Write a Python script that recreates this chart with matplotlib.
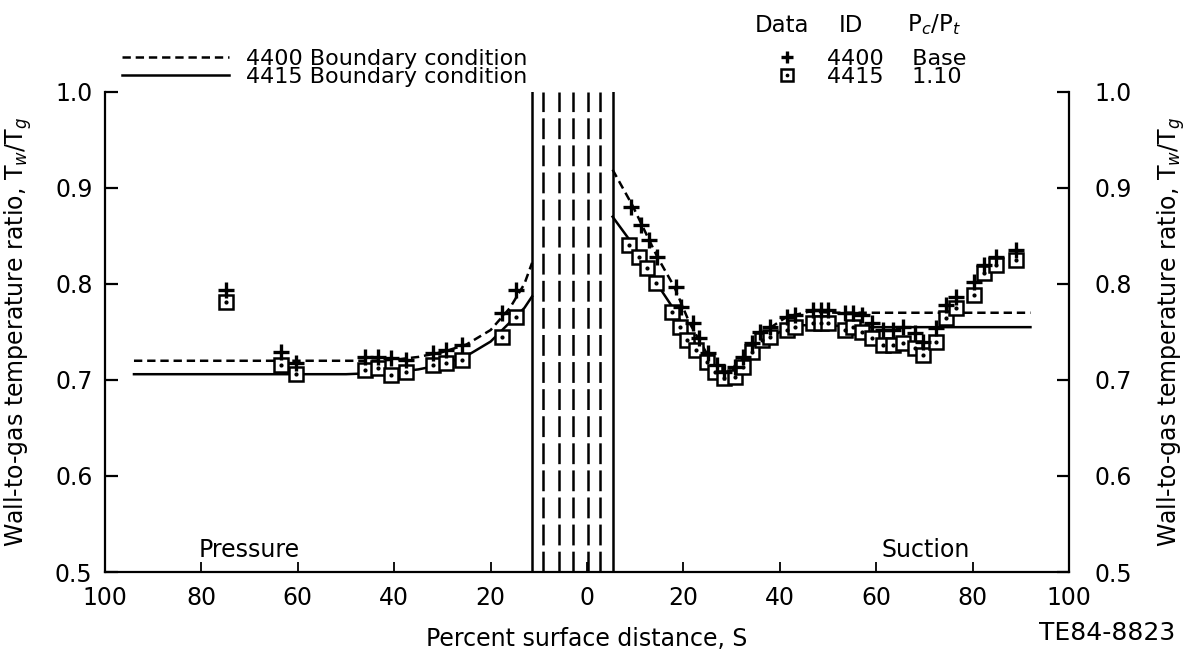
import numpy as np
import matplotlib.pyplot as plt
from matplotlib.ticker import FuncFormatter, MultipleLocator

plt.rcParams['font.family'] = ['DejaVu Sans']
plt.rcParams['lines.scale_dashes'] = False

# surface distance S in percent; pressure side negative (drawn on the left)
# boundary-condition curves
bc4400_s = [-94, -60, -45, -40, -35, -30, -25, -20, -16, -13, -11.4]
bc4400_t = [0.720, 0.720, 0.720, 0.721, 0.724, 0.729, 0.737, 0.752, 0.775, 0.800, 0.822]
bc4415_s = [-94, -50, -45, -40, -35, -30, -25, -20, -16, -13, -11.4]
bc4415_t = [0.706, 0.706, 0.707, 0.708, 0.711, 0.716, 0.725, 0.740, 0.760, 0.775, 0.787]

bc4400_ss = [5.3, 9.4, 14.6, 18.1, 21.3, 24.8, 28.5, 33.0, 37.3, 41.5, 46, 52, 92]
bc4400_st = [0.919, 0.882, 0.828, 0.797, 0.759, 0.728, 0.703, 0.728, 0.752, 0.766, 0.771, 0.770, 0.770]
bc4415_ss = [5.3, 8.8, 14.4, 17.7, 21.3, 24.8, 28.5, 34.4, 40, 44, 50, 56, 92]
bc4415_st = [0.870, 0.846, 0.801, 0.776, 0.745, 0.724, 0.700, 0.734, 0.750, 0.757, 0.757, 0.755, 0.755]

# measured data, ID 4400 (+)
d4400_s = [-75, -63.5, -60.4, -46, -43.3, -40.6, -37.5, -31.9, -29.2, -26, -17.7, -14.8,
           9.2, 11.2, 12.9, 14.6, 18.5, 19.6, 21.9, 23.3, 25, 26.9, 28.5, 30.6, 32.3, 34.2,
           35.8, 37.9, 41.5, 43.1, 46.9, 48.6, 50, 53.5, 55.2, 57, 59.2, 61.5, 63.5, 65.6,
           68.1, 69.8, 72.3, 74.4, 76.5, 80.2, 82.3, 84.8, 89]
d4400_t = [0.794, 0.729, 0.718, 0.724, 0.724, 0.723, 0.721, 0.728, 0.731, 0.736, 0.770, 0.794,
           0.880, 0.861, 0.846, 0.828, 0.797, 0.776, 0.759, 0.744, 0.728, 0.716, 0.708, 0.714,
           0.724, 0.738, 0.750, 0.755, 0.766, 0.768, 0.773, 0.773, 0.773, 0.770, 0.770, 0.768,
           0.759, 0.752, 0.752, 0.755, 0.749, 0.740, 0.754, 0.778, 0.786, 0.802, 0.820, 0.828,
           0.835]

# measured data, ID 4415 (square)
d4415_s = [-75, -63.5, -60.4, -46, -43.3, -40.6, -37.5, -31.9, -29.2, -26, -17.7, -14.8,
           8.75, 10.8, 12.5, 14.4, 17.7, 19.2, 20.8, 22.7, 24.8, 26.5, 28.5, 30.6, 32.3, 34.2,
           36.2, 37.9, 41.5, 43.1, 46.9, 48.6, 50, 53.5, 55.2, 57, 59.2, 61.5, 63.5, 65.6,
           68.1, 69.8, 72.3, 74.4, 76.5, 80.2, 82.3, 84.8, 89]
d4415_t = [0.781, 0.716, 0.706, 0.710, 0.712, 0.705, 0.708, 0.716, 0.718, 0.721, 0.745, 0.766,
           0.841, 0.828, 0.817, 0.801, 0.771, 0.755, 0.742, 0.731, 0.719, 0.708, 0.702, 0.703,
           0.714, 0.729, 0.742, 0.745, 0.752, 0.755, 0.759, 0.759, 0.759, 0.752, 0.755, 0.750,
           0.744, 0.736, 0.736, 0.738, 0.733, 0.726, 0.740, 0.765, 0.775, 0.789, 0.811, 0.820,
           0.825]

# leading-edge region lines
edge_solid = [-11.4, 5.3]
edge_dashed = [-9.1, -5.8, -2.9, 0.1, 2.6]

fig = plt.figure(figsize=(11.87, 6.61), dpi=100)
ax = fig.add_axes([0.0885, 0.1346, 0.8121, 0.7264])

lw = 1.8
for x in edge_solid:
    ax.axvline(x, color='black', lw=lw)
for x in edge_dashed:
    ax.axvline(x, color='black', lw=lw, dashes=(15, 4.5))

ln1, = ax.plot(bc4400_s, bc4400_t, color='black', lw=lw, dashes=(6, 3.5))
ax.plot(bc4400_ss, bc4400_st, color='black', lw=lw, dashes=(6, 3.5))
ln2, = ax.plot(bc4415_s, bc4415_t, color='black', lw=lw)
ax.plot(bc4415_ss, bc4415_st, color='black', lw=lw)

sq, = ax.plot(d4415_s, d4415_t, ls='none', marker='s', ms=9.5, mfc='white', mec='black', mew=1.8)
dot, = ax.plot(d4415_s, d4415_t, ls='none', marker='o', ms=2, color='black')
pl, = ax.plot(d4400_s, d4400_t, ls='none', marker='+', ms=11, mew=2.4, color='black')

ax.text(-80.6, 0.523, 'Pressure', fontsize=17, ha='left', va='center')
ax.text(79.5, 0.523, 'Suction', fontsize=17, ha='right', va='center')

ax.set_xlim(-100, 100)
ax.set_ylim(0.5, 1.0)
ax.xaxis.set_major_locator(MultipleLocator(20))
ax.xaxis.set_major_formatter(FuncFormatter(lambda v, p: f'{abs(v):.0f}'))
ax.yaxis.set_major_locator(MultipleLocator(0.1))
ax.yaxis.set_major_formatter(FuncFormatter(lambda v, p: f'{v:.1f}'))
ax.spines['top'].set_visible(False)
ax.spines['right'].set_visible(False)
for s in ['left', 'bottom']:
    ax.spines[s].set_linewidth(1.6)
ax.tick_params(axis='y', direction='in', length=9, width=1.6, labelsize=17, pad=9)
ax.tick_params(axis='x', direction='in', length=7, width=1.3, labelsize=17, pad=10)
ax.set_xlabel('Percent surface distance, S', fontsize=17, labelpad=12)
ax.set_ylabel('Wall-to-gas temperature ratio, T$_w$/T$_g$', fontsize=17)
ax.yaxis.set_label_coords(-0.074, 0.5)

ax2 = ax.twinx()
ax2.set_ylim(0.5, 1.0)
ax2.yaxis.set_major_locator(MultipleLocator(0.1))
ax2.yaxis.set_major_formatter(FuncFormatter(lambda v, p: f'{v:.1f}'))
for s in ['top', 'left', 'bottom']:
    ax2.spines[s].set_visible(False)
ax2.spines['right'].set_linewidth(1.6)
ax2.tick_params(axis='y', direction='in', length=9, width=1.6, labelsize=17, pad=18)
ax2.set_ylabel('Wall-to-gas temperature ratio, T$_w$/T$_g$', fontsize=17, rotation=90)
ax2.yaxis.set_label_coords(1.09, 0.5)

leg1 = fig.legend([ln1, ln2], ['4400 Boundary condition', '4415 Boundary condition'],
                  loc='center left', bbox_to_anchor=(122 / 1187, 1 - 68 / 661),
                  frameon=False, fontsize=16, handlelength=4.8, handletextpad=0.8,
                  labelspacing=-0.1, borderpad=0, borderaxespad=0)

leg2 = fig.legend([pl, (sq, dot)], ['4400    Base', '4415    1.10'],
                  loc='center left', bbox_to_anchor=(778 / 1187, 1 - 68 / 661),
                  frameon=False, fontsize=16, handlelength=0.8, handletextpad=1.4,
                  labelspacing=-0.1, borderpad=0, borderaxespad=0, markerscale=0.85)

fig.text(782 / 1187, 1 - 25 / 661, 'Data', fontsize=16.5, ha='center', va='center')
fig.text(851 / 1187, 1 - 25 / 661, 'ID', fontsize=16.5, ha='center', va='center')
fig.text(907 / 1187, 1 - 25 / 661, 'P$_c$/P$_t$', fontsize=16.5, ha='left', va='center')
fig.text(1175 / 1187, 1 - 633 / 661, 'TE84-8823', fontsize=18, ha='right', va='center')

fig.savefig('out.png', dpi=100)
